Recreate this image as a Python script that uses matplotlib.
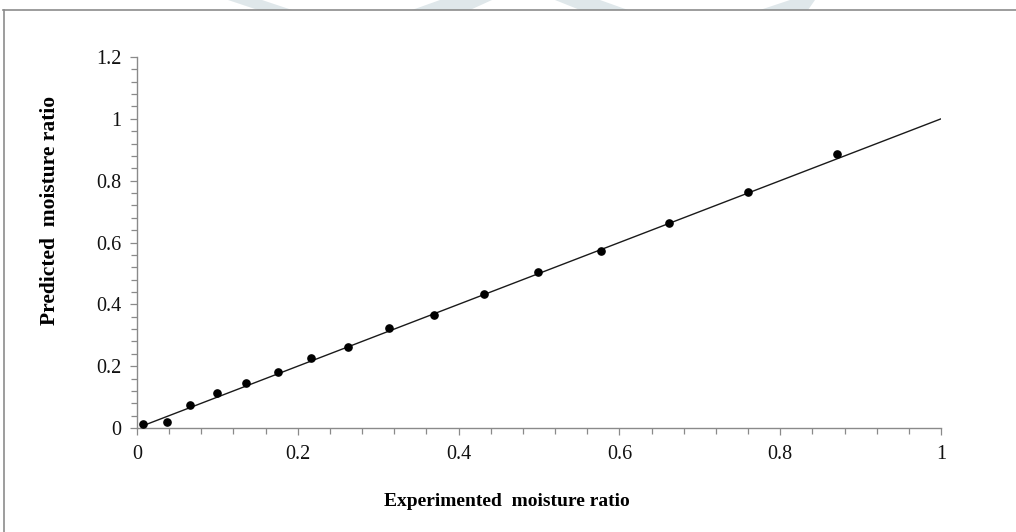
import matplotlib
matplotlib.use("Agg")
import matplotlib.pyplot as plt
import matplotlib.patches as mpatches
from matplotlib.ticker import MultipleLocator

# experimented vs predicted moisture ratio
mr_exp = [0.007, 0.037, 0.066, 0.099, 0.136, 0.175, 0.216, 0.263, 0.314, 0.369,
          0.432, 0.499, 0.577, 0.662, 0.760, 0.871]
mr_pred = [0.012, 0.019, 0.073, 0.112, 0.144, 0.182, 0.225, 0.263, 0.324, 0.364,
           0.433, 0.505, 0.574, 0.662, 0.762, 0.885]
line_x = [mr_exp[0], 1.0]
x_ticks = [0, 0.2, 0.4, 0.6, 0.8, 1]
y_ticks = [0, 0.2, 0.4, 0.6, 0.8, 1, 1.2]

plt.rcParams['font.family'] = ['Liberation Serif', 'DejaVu Serif']

W, H = 1016, 532
fig = plt.figure(figsize=(W / 100, H / 100), dpi=100)
fig.patch.set_facecolor('white')

# faint watermark bits along the top edge
wm = '#dfe7ea'
for pts in [[(228, 0), (262, 0), (292, 10), (258, 10)],
            [(440, 0), (492, 0), (470, 10), (412, 10)],
            [(555, 0), (600, 0), (628, 10), (580, 10)],
            [(790, 0), (815, 0), (808, 10), (760, 10)]]:
    poly = mpatches.Polygon([(px / W, 1 - py / H) for px, py in pts], closed=True,
                            transform=fig.transFigure, color=wm, lw=0, zorder=0)
    fig.patches.append(poly)

# page frame (top and left edges visible)
frame_col = '#8c8c8c'
fig.add_artist(plt.Line2D([3 / W, 1], [1 - 9.5 / H, 1 - 9.5 / H], color=frame_col, lw=1.2,
                          transform=fig.transFigure))
fig.add_artist(plt.Line2D([3.5 / W, 3.5 / W], [0, 1 - 9.5 / H], color=frame_col, lw=1.2,
                          transform=fig.transFigure))

ax = fig.add_axes([137 / W, 1 - 428 / H, (941 - 137) / W, (428 - 57) / H])
ax.plot(line_x, line_x, color='#1a1a1a', lw=1.0, zorder=2)
ax.plot(mr_exp, mr_pred, 'o', color='black', markersize=5.2, zorder=3)

ax.set_xlim(0, 1)
ax.set_ylim(0, 1.2)
ax.set_xticks(x_ticks)
ax.set_yticks(y_ticks)
ax.set_xticklabels(['0', '0.2', '0.4', '0.6', '0.8', '1'])
ax.set_yticklabels(['0', '0.2', '0.4', '0.6', '0.8', '1', '1.2'])
ax.xaxis.set_minor_locator(MultipleLocator(0.04))
ax.yaxis.set_minor_locator(MultipleLocator(0.04))

for s in ['top', 'right']:
    ax.spines[s].set_visible(False)
for s in ['left', 'bottom']:
    ax.spines[s].set_color('#8a8a8a')
    ax.spines[s].set_linewidth(1.0)

ax.tick_params(which='both', direction='out', color='#8a8a8a', width=0.9,
               labelsize=14.5, labelcolor='#111111')
ax.tick_params(which='major', length=5)
ax.tick_params(which='minor', length=4)
ax.tick_params(axis='x', pad=7)
ax.tick_params(axis='y', pad=6)

fig.text(507 / W, 1 - 501 / H, 'Experimented  moisture ratio', ha='center', va='center',
         fontsize=14, fontweight='bold')
fig.text(50 / W, 1 - 210 / H, 'Predicted  moisture ratio', ha='center', va='center',
         rotation=90, fontsize=15.5, fontweight='bold')

fig.savefig('out.png', dpi=100, facecolor='white')
